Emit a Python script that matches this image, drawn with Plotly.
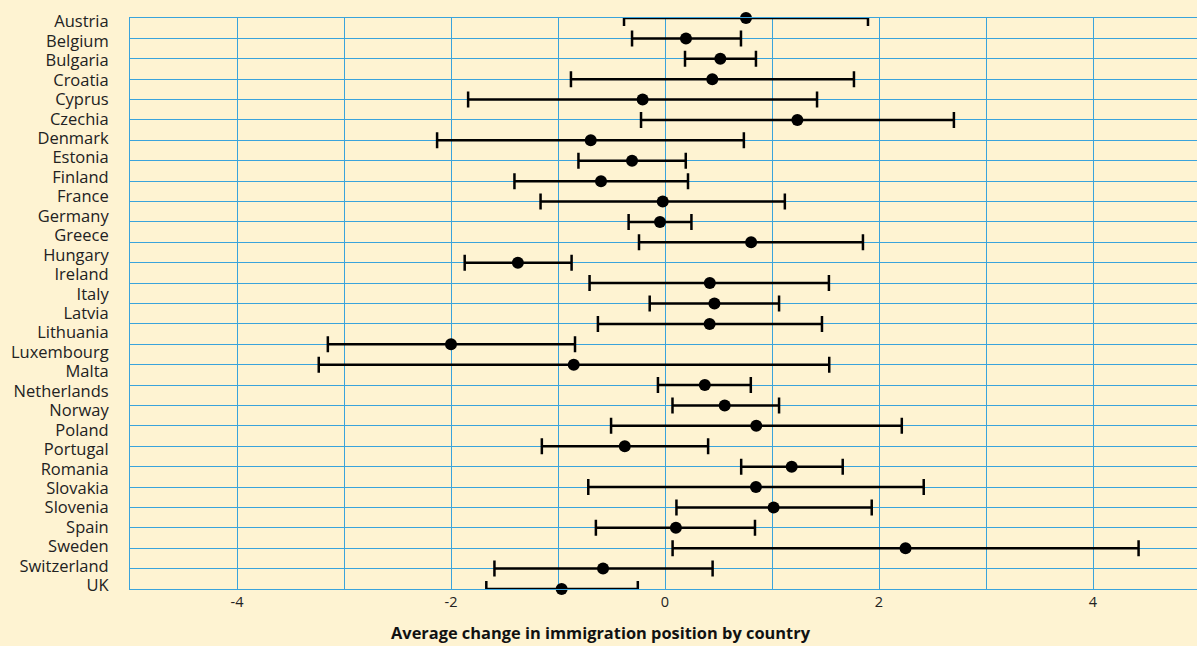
import plotly.graph_objects as go

# Tick labels shown on the left (30 country names)
countries = ["Austria", "Belgium", "Bulgaria", "Croatia", "Cyprus", "Czechia",
             "Denmark", "Estonia", "Finland", "France", "Germany", "Greece",
             "Hungary", "Ireland", "Italy", "Latvia", "Lithuania", "Luxembourg",
             "Malta", "Netherlands", "Norway", "Poland", "Portugal", "Romania",
             "Slovakia", "Slovenia", "Spain", "Sweden", "Switzerland", "UK"]

# Plotted rows (29 estimates drawn on the chart, top to bottom)
row_ids = list(range(29))
means = [0.757, 0.196, 0.517, 0.442, -0.209, 1.237, -0.694, -0.308, -0.598,
         -0.021, -0.047, 0.805, -1.375, 0.419, 0.462, 0.417, -2.000, -0.853,
         0.372, 0.558, 0.853, -0.376, 1.184, 0.850, 1.015, 0.102, 2.248,
         -0.579, -0.966]
lower = [-0.383, -0.308, 0.187, -0.879, -1.840, -0.224, -2.130, -0.809, -1.407,
         -1.163, -0.340, -0.243, -1.872, -0.705, -0.143, -0.627, -3.151, -3.236,
         -0.066, 0.070, -0.504, -1.151, 0.712, -0.717, 0.107, -0.646, 0.071,
         -1.594, -1.670]
upper = [1.897, 0.710, 0.850, 1.766, 1.421, 2.700, 0.737, 0.194, 0.215,
         1.120, 0.247, 1.850, -0.873, 1.532, 1.066, 1.467, -0.841, 1.535,
         0.802, 1.066, 2.213, 0.403, 1.661, 2.418, 1.932, 0.841, 4.426,
         0.445, -0.254]

x_ticks = [-4, -2, 0, 2, 4]

BG = "#FEF3D2"
GRID = "#3AA3DB"
FONT = "Open Sans, Noto Sans, sans-serif"

err_plus = [u - m for u, m in zip(upper, means)]
err_minus = [m - l for m, l in zip(means, lower)]

fig = go.Figure()
fig.add_trace(go.Scatter(
    x=means, y=row_ids, mode="markers",
    marker=dict(color="black", size=12),
    error_x=dict(type="data", symmetric=False, array=err_plus, arrayminus=err_minus,
                 color="black", thickness=2.5, width=8),
    cliponaxis=False, showlegend=False, hoverinfo="x",
))
# invisible trace to carry the country label axis
fig.add_trace(go.Scatter(
    x=[None] * len(countries), y=list(range(len(countries))), yaxis="y2",
    mode="markers", showlegend=False, hoverinfo="skip",
))

fig.update_layout(
    width=1197, height=646,
    margin=dict(l=130, r=0, t=18, b=57),
    paper_bgcolor=BG, plot_bgcolor=BG,
    font=dict(family=FONT, color="#222222"),
    xaxis=dict(
        range=[-5, 4.972], tickvals=x_ticks, ticktext=[str(v) for v in x_ticks],
        showgrid=True, gridcolor=GRID, gridwidth=1,
        minor=dict(dtick=1, tick0=0, showgrid=True, gridcolor=GRID, gridwidth=1),
        zeroline=True, zerolinecolor=GRID, zerolinewidth=1.3,
        showline=True, linecolor=GRID, linewidth=1, mirror=True,
        ticks="", tickfont=dict(size=14.5, color="#222222"),
    ),
    yaxis=dict(
        range=[28, 0], tickvals=row_ids, showticklabels=False,
        showgrid=True, gridcolor=GRID, gridwidth=1, zeroline=False,
        showline=True, linecolor=GRID, linewidth=1, ticks="",
    ),
    yaxis2=dict(
        overlaying="y", side="left", range=[29.18, -0.18],
        tickvals=list(range(len(countries))), ticktext=countries,
        showgrid=False, zeroline=False, showline=False,
        ticks="outside", ticklen=17, tickcolor="rgba(0,0,0,0)",
        tickfont=dict(size=16.5, color="#222222"),
    ),
    annotations=[dict(
        text="<b>Average change in immigration position by country</b>",
        xref="paper", yref="paper", x=(600.5 - 130) / 1067, y=0,
        xanchor="center", yanchor="middle", yshift=-43, showarrow=False,
        font=dict(size=16.4, color="#111111", family=FONT),
    )],
)

fig.write_html("out.html",
               config={"displayModeBar": False},
               post_script="document.body.style.margin='0';document.body.style.background='%s';" % BG)
